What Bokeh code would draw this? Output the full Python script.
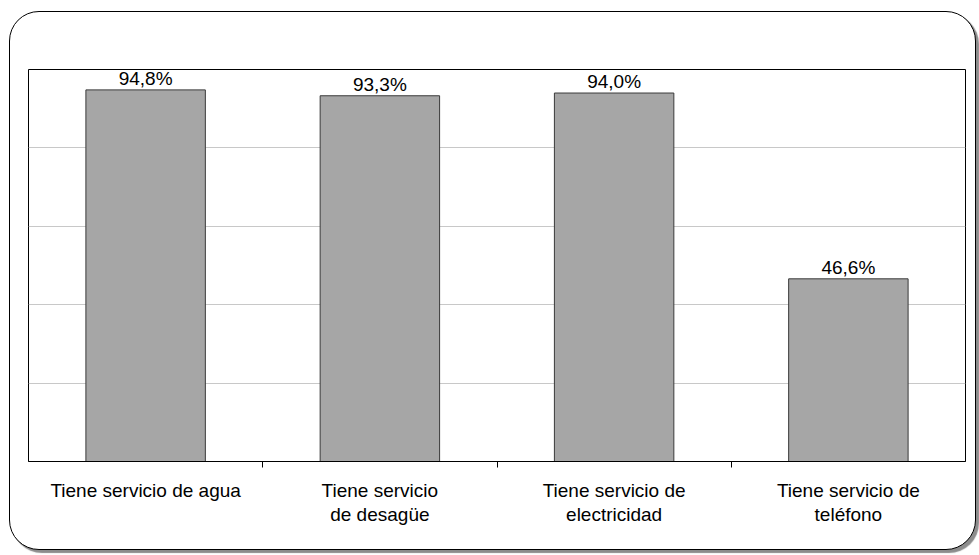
from bokeh.plotting import figure
from bokeh.models import ColumnDataSource, FixedTicker, Grid, LinearAxis, Range1d
from bokeh.embed import file_html
from bokeh.resources import INLINE
from bokeh.core.properties import value

# Share of households with each basic service (%)
categories = ["Tiene servicio de agua", "Tiene servicio\nde desagüe",
              "Tiene servicio de\nelectricidad", "Tiene servicio de\nteléfono"]
values = [94.8, 93.3, 94.0, 46.6]
value_labels = ["94,8%", "93,3%", "94,0%", "46,6%"]
grid_ticks = [20, 40, 60, 80]

FONT = "Liberation Sans"

centers = [i + 0.5 for i in range(len(categories))]
src = ColumnDataSource(dict(x=centers, top=values, label=value_labels))

p = figure(width=967, height=539, output_backend="svg", toolbar_location=None,
           x_range=Range1d(0, len(categories)), y_range=Range1d(0, 100),
           x_axis_location=None, y_axis_location=None,
           min_border_left=18, min_border_right=12,
           min_border_top=57, min_border_bottom=90)
p.outline_line_color = "black"
p.outline_line_width = 1
p.background_fill_color = "white"
p.border_fill_color = None
for g in p.grid:
    g.visible = False

# Rounded outer panel with a drop shadow
p.styles = {
    "margin-left": "9px",
    "margin-top": "11px",
    "border": "1px solid black",
    "border-radius": "30px",
    "box-shadow": "3px 3px 1px #8c8c8c",
    "background-color": "white",
}

# Horizontal reference lines
p.add_layout(Grid(dimension=1, ticker=FixedTicker(ticks=grid_ticks),
                  grid_line_color="#c8c8c8", grid_line_width=1))

p.vbar(x="x", top="top", width=0.51, bottom=0, source=src,
       fill_color="#a6a6a6", line_color="#3a3a3a", line_width=1)

p.text(x="x", y="top", text="label", source=src, text_align="center",
       text_baseline="bottom", y_offset=-1, text_font=value(FONT),
       text_font_size="19px", text_color="black")

# Category axis: labels at bar centres, separator ticks between categories
xaxis = LinearAxis(ticker=FixedTicker(ticks=centers, minor_ticks=[1, 2, 3]))
xaxis.major_label_overrides = {c: lab for c, lab in zip(centers, categories)}
xaxis.major_tick_line_color = None
xaxis.major_tick_out = 5
xaxis.major_tick_in = 0
xaxis.minor_tick_line_color = "black"
xaxis.minor_tick_out = 6
xaxis.minor_tick_in = 0
xaxis.axis_line_color = "black"
xaxis.major_label_standoff = 12
xaxis.major_label_text_font = FONT
xaxis.major_label_text_font_size = "19px"
xaxis.major_label_text_color = "black"
xaxis.major_label_text_line_height = 1.15
p.add_layout(xaxis, "below")

open("out.html", "w").write(file_html(p, INLINE))
